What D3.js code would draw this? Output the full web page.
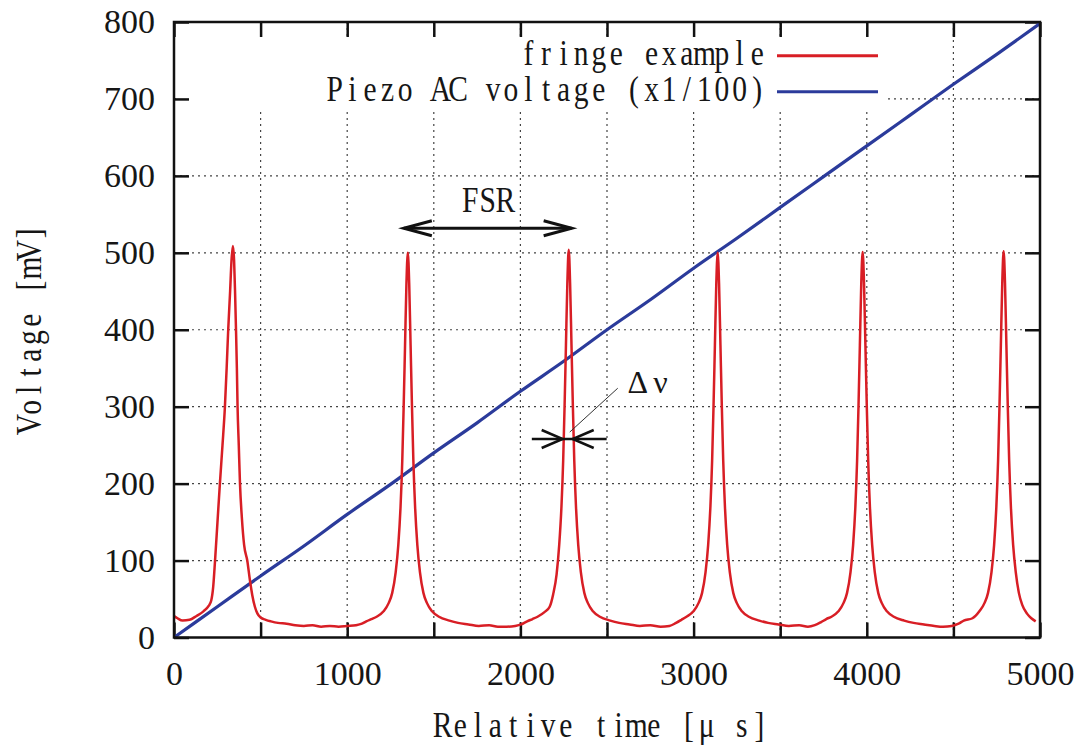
<!DOCTYPE html>
<html>
<head>
<meta charset="utf-8">
<script src="https://cdn.jsdelivr.net/npm/d3@7"></script>
<style>
  body { margin: 0; background: #fff; }
</style>
</head>
<body>
<svg id="chart" width="1078" height="747"></svg>
<script>
// fringe signal [time us, mV]
var fringe = [
  [0,28],[20,25],[50,22],[90,23],[130,28],[170,34],[200,41],[215,48],[226,65],[237,100],
  [251,150],[265,200],[280,250],[294,300],[304,350],[313,400],[324,450],[332,490],[340,509],
  [347,490],[353,445],[358,400],[363,350],[367,300],[374,250],[381,200],[392,155],[405,120],
  [423,100],[438,75],[452,55],[467,40],[482,31],[500,26],[530,23],[560,21],[600,19],[650,18],
  [700,16],[750,15],[800,16],[850,14],[900,15],[950,14],[1000,15],[1050,16],[1085,18],
  [1110,21],[1140,24],[1170,27],[1210,34],[1240,45],[1260,58],[1280,85],[1295,120],[1308,170],
  [1318,230],[1326,300],[1334,380],[1342,460],[1350,500],[1358,460],[1366,380],[1374,300],
  [1382,230],[1392,170],[1405,120],[1420,85],[1440,58],[1460,45],[1490,34],[1530,27],[1590,22],
  [1640,19],[1700,17],[1760,15],[1820,16],[1870,14],[1920,14],[1970,15],[2005,17],[2039,21],
  [2070,24],[2099,27],[2139,33],[2169,40],[2189,56],[2209,82],[2224,120],[2237,170],[2247,230],
  [2255,300],[2263,380],[2271,460],[2279,504],[2287,460],[2295,380],[2303,300],[2311,230],
  [2321,170],[2334,120],[2349,85],[2369,58],[2389,45],[2419,34],[2459,27],[2519,22],[2570,19],
  [2630,17],[2690,15],[2750,16],[2810,14],[2860,15],[2899,19],[2930,23],[2959,27],[2999,34],
  [3029,45],[3049,58],[3069,85],[3084,120],[3097,170],[3107,230],[3115,300],[3123,380],
  [3131,460],[3139,500],[3147,460],[3155,380],[3163,300],[3171,230],[3181,170],[3194,120],
  [3209,85],[3229,58],[3249,45],[3279,34],[3319,27],[3379,22],[3430,19],[3490,17],[3550,15],
  [3610,16],[3660,14],[3700,16],[3736,20],[3766,24],[3796,27],[3836,34],[3866,45],[3886,58],
  [3906,85],[3921,120],[3934,170],[3944,230],[3952,300],[3960,380],[3968,460],[3976,501],
  [3984,460],[3992,380],[4000,300],[4008,230],[4018,170],[4031,120],[4046,85],[4066,58],
  [4086,45],[4116,34],[4156,27],[4216,22],[4270,19],[4330,17],[4390,15],[4440,14],[4490,15],
  [4530,18],[4560,22],[4610,25],[4650,34],[4680,45],[4700,58],[4720,85],[4735,120],[4748,170],
  [4758,230],[4766,300],[4774,380],[4782,460],[4790,502],[4798,460],[4806,380],[4814,300],
  [4822,230],[4832,170],[4845,120],[4860,85],[4878,58],[4898,42],[4925,31],[4950,25],[4975,21]
];

// piezo ramp, already divided by 100
var piezo = [
  [0,0],[250,40],[500,80],[750,119],[1000,160],[1250,199],[1500,240],[1750,279],[2000,320],
  [2250,359],[2500,400],[2750,439],[3000,480],[3250,519],[3500,559],[3750,599],[4000,639],
  [4250,679],[4500,719],[4750,758],[5000,798]
];

var xTicks = [0, 500, 1000, 1500, 2000, 2500, 3000, 3500, 4000, 4500, 5000];
var xLabels = ['0', '', '1000', '', '2000', '', '3000', '', '4000', '', '5000'];
var yTicks = [0, 100, 200, 300, 400, 500, 600, 700, 800];
var seriesNames = ['fringe example', 'Piezo AC voltage (x1/100)'];

// annotations in data units
var fsr = { from: 1327, to: 2296, level: 532 };
var lw = { from: 2066, to: 2498, level: 258, tipL: 2244, tipR: 2302 };
var lwLabel = { t: 2619, v: 318 };

var red = '#d81e25';
var blue = '#2b3b9b';
var ink = '#161616';
var serif = "'Liberation Serif', 'DejaVu Serif', serif";

var svg = d3.select('#chart');

var pLeft = 174, pRight = 1040, pTop = 22, pBottom = 637.5;

var x = d3.scaleLinear().domain([0, 5000]).range([pLeft, pRight]);
var y = d3.scaleLinear().domain([0, 800]).range([pBottom, pTop]);

// monospaced-looking text, one tspan per character cell
function monoText(parent, str, x0, baseline, pitch, size) {
  var sx = 0.82;
  var t = parent.append('text')
    .attr('transform', 'translate(' + x0 + ',' + baseline + ') scale(' + sx + ',1)')
    .attr('font-family', serif)
    .attr('font-size', size)
    .attr('fill', ink)
    .attr('text-anchor', 'middle');
  t.selectAll('tspan')
    .data(str.split(''))
    .join('tspan')
    .attr('x', function(d, i) { return (i + 0.5) * pitch / sx; })
    .attr('y', 0)
    .text(function(d) { return d; });
  return t;
}

// grid
var grid = svg.append('g')
  .attr('stroke', '#444')
  .attr('stroke-width', 1.2)
  .attr('stroke-dasharray', '2,4');

grid.selectAll('.gx')
  .data(xTicks.slice(1, -1))
  .join('line')
  .attr('x1', function(d) { return x(d); })
  .attr('x2', function(d) { return x(d); })
  .attr('y1', pTop)
  .attr('y2', pBottom);

grid.selectAll('.gy')
  .data(yTicks.slice(1, -1))
  .join('line')
  .attr('x1', pLeft)
  .attr('x2', pRight)
  .attr('y1', function(d) { return y(d); })
  .attr('y2', function(d) { return y(d); });

// key box blanks the grid behind it
svg.append('rect')
  .attr('x', pLeft + 2)
  .attr('y', 37)
  .attr('width', 886 - pLeft)
  .attr('height', 75)
  .attr('fill', '#fff');

// axes, ticks pointing inward on all four sides
var axB = svg.append('g')
  .attr('transform', 'translate(0,' + pBottom + ')')
  .call(d3.axisBottom(x).tickValues(xTicks).tickSize(-15).tickPadding(23)
    .tickFormat(function(d, i) { return xLabels[i]; }));

var axL = svg.append('g')
  .attr('transform', 'translate(' + pLeft + ',0)')
  .call(d3.axisLeft(y).tickValues(yTicks).tickSize(-15).tickPadding(19));

var axT = svg.append('g')
  .attr('transform', 'translate(0,' + pTop + ')')
  .call(d3.axisTop(x).tickValues(xTicks).tickSize(-15).tickFormat(''));

var axR = svg.append('g')
  .attr('transform', 'translate(' + pRight + ',0)')
  .call(d3.axisRight(y).tickValues(yTicks).tickSize(-15).tickFormat(''));

[axB, axL, axT, axR].forEach(function(a) {
  a.select('.domain').remove();
  a.selectAll('.tick line').attr('stroke', '#111').attr('stroke-width', 2.5);
  a.selectAll('.tick text')
    .attr('font-family', serif)
    .attr('font-size', 34)
    .attr('fill', ink);
});

// data lines
var line = d3.line()
  .curve(d3.curveMonotoneX)
  .x(function(d) { return x(d[0]); })
  .y(function(d) { return y(d[1]); });

svg.append('path')
  .datum(piezo)
  .attr('d', line)
  .attr('fill', 'none')
  .attr('stroke', blue)
  .attr('stroke-width', 3.2);

svg.append('path')
  .datum(fringe)
  .attr('d', line)
  .attr('fill', 'none')
  .attr('stroke', red)
  .attr('stroke-width', 2.5)
  .attr('stroke-linejoin', 'round');

// frame
svg.append('rect')
  .attr('x', pLeft)
  .attr('y', pTop)
  .attr('width', pRight - pLeft)
  .attr('height', pBottom - pTop)
  .attr('fill', 'none')
  .attr('stroke', '#111')
  .attr('stroke-width', 2.5);

// legend
var pitch = 17.6;
var keyRight = 766;
var keyY = [55.7, 91.7];
var keyColors = [red, blue];
seriesNames.forEach(function(name, i) {
  monoText(svg, name, keyRight - name.length * pitch, keyY[i] + 9.5, pitch, 36);
  svg.append('line')
    .attr('x1', 777).attr('x2', 878)
    .attr('y1', keyY[i]).attr('y2', keyY[i])
    .attr('stroke', keyColors[i])
    .attr('stroke-width', 3);
});

// axis titles
var xTitle = 'Relative time [μ s]';
monoText(svg, xTitle, 601 - xTitle.length * pitch / 2, 737, pitch, 36);

var yTitle = 'Voltage [mV]';
var yg = svg.append('g').attr('transform', 'translate(41,329) rotate(-90)');
monoText(yg, yTitle, -yTitle.length * 17.4 / 2, 0, 17.4, 36);

// FSR arrow
var ann = svg.append('g').attr('stroke', '#111').attr('fill', 'none');
var fy = y(fsr.level), fx0 = x(fsr.from), fx1 = x(fsr.to);
ann.append('line').attr('x1', fx0).attr('x2', fx1).attr('y1', fy).attr('y2', fy).attr('stroke-width', 3);
ann.append('path')
  .attr('d', 'M' + (fx0 + 28) + ',' + (fy - 7.5) + 'L' + fx0 + ',' + fy + 'L' + (fx0 + 28) + ',' + (fy + 7.5))
  .attr('stroke-width', 3);
ann.append('path')
  .attr('d', 'M' + (fx1 - 28) + ',' + (fy - 7.5) + 'L' + fx1 + ',' + fy + 'L' + (fx1 - 28) + ',' + (fy + 7.5))
  .attr('stroke-width', 3);
monoText(svg, 'FSR', (fx0 + fx1) / 2 - 1.5 * pitch, 212, pitch, 36);

// linewidth marker
var wy = y(lw.level), tl = x(lw.tipL), tr = x(lw.tipR);
ann.append('line').attr('x1', x(lw.from)).attr('x2', x(lw.to)).attr('y1', wy).attr('y2', wy).attr('stroke-width', 2.5);
ann.append('path')
  .attr('d', 'M' + (tl - 21) + ',' + (wy - 9) + 'L' + tl + ',' + wy + 'L' + (tl - 21) + ',' + (wy + 9))
  .attr('stroke-width', 2.5);
ann.append('path')
  .attr('d', 'M' + (tr + 21) + ',' + (wy - 9) + 'L' + tr + ',' + wy + 'L' + (tr + 21) + ',' + (wy + 9))
  .attr('stroke-width', 2.5);
ann.append('line')
  .attr('x1', x(2285)).attr('y1', y(267))
  .attr('x2', x(2562)).attr('y2', y(324))
  .attr('stroke', '#333')
  .attr('stroke-width', 1);

svg.append('text')
  .attr('x', x(lwLabel.t))
  .attr('y', y(lwLabel.v))
  .attr('font-family', serif)
  .attr('font-size', 32)
  .attr('fill', ink)
  .text('Δ')
  .append('tspan')
  .attr('dx', 5)
  .text('ν');
</script>
</body>
</html>
